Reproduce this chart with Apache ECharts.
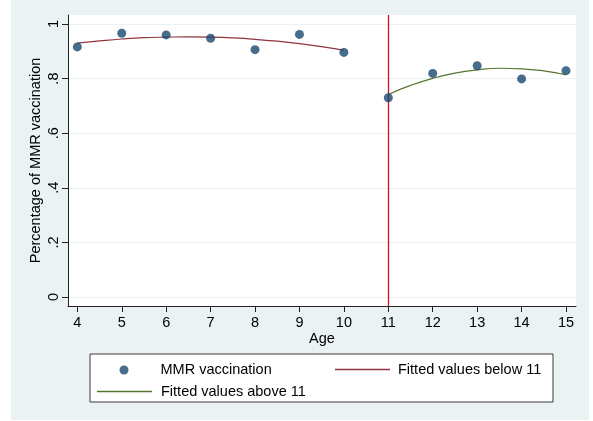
<!DOCTYPE html>
<html>
<head>
<meta charset="utf-8">
<script src="https://cdn.jsdelivr.net/npm/echarts@6/dist/echarts.min.js"></script>
<style>html,body{margin:0;padding:0;background:#fff}#c{width:593px;height:421px}</style>
</head>
<body>
<div id="c"></div>
<script>
const ages = [4,5,6,7,8,9,10,11,12,13,14,15];
const mmrValues = [0.916,0.966,0.960,0.948,0.906,0.962,0.896,0.730,0.819,0.847,0.799,0.829];
const fitBelowAges = [4,4.5,5,5.5,6,6.5,7,7.5,8,8.5,9,9.5,10];
const fitBelowValues = [0.930,0.938,0.945,0.950,0.952,0.953,0.952,0.949,0.944,0.937,0.928,0.917,0.904];
const fitAboveAges = [11,11.5,12,12.5,13,13.5,14,14.5,15];
const fitAboveValues = [0.742,0.775,0.801,0.820,0.832,0.838,0.836,0.828,0.814];
const xTicks = [4,5,6,7,8,9,10,11,12,13,14,15];
const yTicks = [0,0.2,0.4,0.6,0.8,1];
const yTickLabels = {0:'0',0.2:'.2',0.4:'.4',0.6:'.6',0.8:'.8',1:'1'};
const cutoff = 11;

const FONT = 'Liberation Sans, Arial, sans-serif';
const FS = 14.5;
const chart = echarts.init(document.getElementById('c'));
const pairs = (xs, ys) => xs.map((x,i)=>[x, ys[i]]);

chart.setOption({
  animation: false,
  backgroundColor: '#ffffff',
  textStyle: {fontFamily: FONT},
  graphic: [
    {type:'rect', z:-100, shape:{x:11,y:0,width:578,height:420}, style:{fill:'#eaf2f3'}},
    {type:'rect', z:1, shape:{x:90,y:354,width:463,height:48}, style:{fill:'#ffffff', stroke:'#3a3a3a', lineWidth:1}}
  ],
  grid: {left:68, right:17, top:15, bottom:115, show:true, backgroundColor:'#ffffff', borderWidth:0},
  xAxis: {
    type:'value', min:3.79, max:15.225,
    name:'Age', nameLocation:'middle', nameGap:25, nameMoveOverlap:false,
    nameTextStyle:{color:'#000', fontSize:FS, fontFamily:FONT},
    axisLine:{show:true, onZero:false, lineStyle:{color:'#222', width:1}},
    axisTick:{show:true, length:6, customValues:xTicks, lineStyle:{color:'#222'}},
    axisLabel:{customValues:xTicks, color:'#000', fontSize:FS, margin:9, fontFamily:FONT},
    splitLine:{show:false}
  },
  yAxis: {
    type:'value', min:-0.033, max:1.033,
    name:'Percentage of MMR vaccination', nameLocation:'middle', nameGap:25, nameMoveOverlap:false,
    nameTextStyle:{color:'#000', fontSize:FS, fontFamily:FONT},
    axisLine:{show:true, onZero:false, lineStyle:{color:'#222', width:1}},
    axisTick:{show:true, length:6, customValues:yTicks, lineStyle:{color:'#222'}},
    axisLabel:{customValues:yTicks, rotate:90, color:'#000', fontSize:FS, margin:7, fontFamily:FONT,
      formatter: v => yTickLabels[Math.round(v*10)/10] ?? ''},
    splitLine:{show:true, lineStyle:{color:'#eaf2f3', width:1}}
  },
  legend: [
    {left:119.5, top:362.5, itemWidth:9, itemHeight:9, itemGap:0, padding:0,
     textStyle:{fontSize:FS, color:'#000', fontFamily:FONT, padding:[0,0,0,27]},
     data:[{name:'MMR vaccination', icon:'circle'}]},
    {left:335, top:362, itemWidth:55, itemHeight:1.5, itemGap:0, padding:0,
     textStyle:{fontSize:FS, color:'#000', fontFamily:FONT, padding:[0,0,0,3]},
     data:[{name:'Fitted values below 11', icon:'rect'}]},
    {left:97, top:384, itemWidth:55, itemHeight:1.5, itemGap:0, padding:0,
     textStyle:{fontSize:FS, color:'#000', fontFamily:FONT, padding:[0,0,0,4]},
     data:[{name:'Fitted values above 11', icon:'rect'}]}
  ],
  series: [
    {
      name:'MMR vaccination', type:'scatter', symbol:'circle', symbolSize:9, z:5,
      itemStyle:{color:'#1a476f'},
      data: pairs(ages, mmrValues),
      markLine:{silent:true, symbol:'none', label:{show:false},
        lineStyle:{color:'#d0102c', width:1.3, type:'solid'},
        data:[{xAxis:cutoff}]}
    },
    {
      name:'Fitted values below 11', type:'line', smooth:true, showSymbol:false, symbol:'none', z:4,
      lineStyle:{color:'#90353b', width:1.2}, itemStyle:{color:'#90353b'},
      data: pairs(fitBelowAges, fitBelowValues)
    },
    {
      name:'Fitted values above 11', type:'line', smooth:true, showSymbol:false, symbol:'none', z:4,
      lineStyle:{color:'#55752f', width:1.2}, itemStyle:{color:'#55752f'},
      data: pairs(fitAboveAges, fitAboveValues)
    }
  ]
});
</script>
</body>
</html>
